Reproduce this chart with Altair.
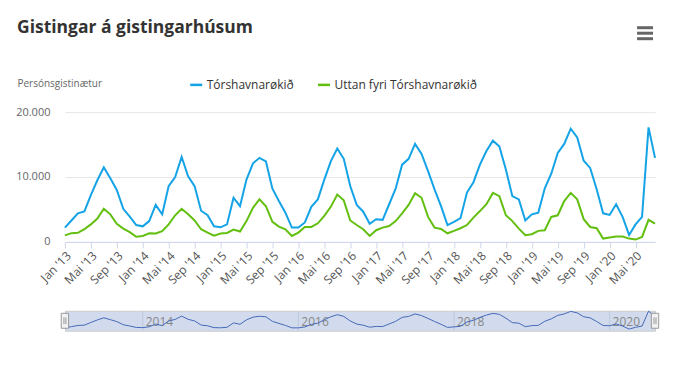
import json
import altair as alt
import pandas as pd

# ---- data -------------------------------------------------------------
month_names = ["Jan", "Feb", "Mar", "Apr", "Mai", "Jun", "Jul", "Aug", "Sep", "Okt", "Nov", "Des"]
start_year = 2013
series_names = ["Tórshavnarøkið", "Uttan fyri Tórshavnarøkið"]
series_colors = ["#14a3e6", "#62bf10"]

torshavn = [
    2200, 3300, 4400, 4700, 7200, 9500, 11500, 9800, 8000, 5100, 3900, 2600,      # 2013
    2400, 3200, 5700, 4250, 8600, 10000, 13100, 10100, 8600, 4800, 4100, 2400,    # 2014
    2250, 2700, 6800, 5500, 9600, 12100, 12950, 12400, 8200, 6300, 4500, 2200,    # 2015
    2200, 3000, 5400, 6550, 9600, 12400, 14400, 12800, 8600, 5700, 4650, 2800,    # 2016
    3500, 3400, 5800, 8200, 11900, 12800, 15100, 13550, 10900, 8100, 5500, 2600,  # 2017
    3100, 3650, 7600, 9200, 11900, 14000, 15600, 14700, 11150, 7050, 6550, 3300,  # 2018
    4250, 4500, 8250, 10500, 13700, 15100, 17450, 16100, 12500, 11400, 8100, 4400,  # 2019
    4150, 5800, 3850, 1070, 2700, 3850, 17650, 12950,                             # 2020
]
uttan = [
    1000, 1350, 1400, 1950, 2700, 3600, 5100, 4250, 2800, 2050, 1500, 800,
    920, 1330, 1300, 1640, 2700, 4100, 5100, 4250, 3300, 1950, 1430, 970,
    1280, 1380, 1900, 1600, 3200, 5250, 6550, 5500, 3100, 2350, 1950, 920,
    1430, 2300, 2300, 2860, 4000, 5400, 7300, 6400, 3300, 2600, 1950, 920,
    1800, 2200, 2450, 3200, 4400, 5700, 7500, 6800, 3850, 2200, 2000, 1330,
    1700, 2100, 2600, 3750, 4750, 5800, 7550, 7050, 4100, 3200, 2050, 1020,
    1180, 1700, 1800, 3850, 4100, 6300, 7550, 6550, 3500, 2300, 2100, 510,
    670, 820, 820, 510, 360, 770, 3400, 2800,
]
y_ticks = [0, 10000, 20000]
nav_years = [2014, 2016, 2018, 2020]
title_text = ["Gistingar á gistingarhúsum"]
y_title = "Persónsgistinætur"

# ---- tables -----------------------------------------------------------
n = len(torshavn)
rows = []
for i in range(n):
    rows.append({"i": i, "serie": series_names[0], "v": torshavn[i]})
    rows.append({"i": i, "serie": series_names[1], "v": uttan[i]})
df = pd.DataFrame(rows)
nav_df = pd.DataFrame({"i": list(range(n)), "v": torshavn})
years_df = pd.DataFrame({"i": [(y - start_year) * 12 for y in nav_years],
                         "lab": [str(y) for y in nav_years]})
handles_df = pd.DataFrame({"i": [0, n - 1]})

W, H, NH = 591, 130, 20
FONT = "Open Sans"

xscale = alt.Scale(domain=[0, n - 1], nice=False, zero=False)
month_js = json.dumps(month_names)
x_label_expr = (f"{month_js}[datum.value % 12] + \" '\" + "
                f"format({start_year % 100} + floor(datum.value / 12), '02d')")

lines = alt.Chart(df).mark_line(strokeWidth=2).encode(
    x=alt.X("i:Q", scale=xscale, title=None,
            axis=alt.Axis(values=list(range(0, n, 4)), labelExpr=x_label_expr,
                          labelAngle=-45, labelFontSize=12, labelColor="#555",
                          labelFont=FONT, domainColor="#ccd6eb", tickColor="#ccd6eb",
                          tickSize=6, grid=False, labelPadding=2,
                          labelOverlap=False, labelBound=False, labelFlush=False)),
    y=alt.Y("v:Q", scale=alt.Scale(domain=[0, 20000], nice=False),
            axis=alt.Axis(values=y_ticks,
                          labelExpr="replace(format(datum.value, ',d'), ',', '.')",
                          title=y_title, titleAngle=0, titleX=-48, titleY=-29,
                          titleAlign="left", titleBaseline="middle",
                          titleFontSize=10, titleFontWeight="normal", titleColor="#666",
                          titleFont=FONT, labelFont=FONT, labelFontSize=11,
                          labelColor="#666", labelPadding=15, ticks=False,
                          domain=False, gridColor="#e6e6e6")),
    color=alt.Color("serie:N", scale=alt.Scale(domain=series_names, range=series_colors),
                    legend=alt.Legend(title=None, orient="none", legendX=124, legendY=-35,
                                      direction="horizontal", symbolType="stroke",
                                      symbolStrokeWidth=2.5, symbolSize=144,
                                      labelFont=FONT, labelFontSize=12, labelColor="#333",
                                      columnPadding=18, labelOffset=3)),
)

title_mark = alt.Chart(pd.DataFrame({"t": title_text})).mark_text(
    align="left", baseline="middle", font=FONT, fontSize=17.5, fontWeight="bold", color="#333"
).encode(x=alt.value(-48), y=alt.value(-84), text="t:N")

# export-menu icon: three short thick bars
menu_bars = [
    alt.Chart(pd.DataFrame({"k": [b]})).mark_rule(strokeWidth=3, color="#666").encode(
        x=alt.value(573), x2=alt.value(589), y=alt.value(yb))
    for b, yb in enumerate([-84.5, -79, -73.5])
]

top = alt.layer(lines, title_mark, *menu_bars).properties(width=W, height=H)

# ---- navigator ---------------------------------------------------------
nx = alt.X("i:Q", scale=xscale, axis=None)
nav_grid = alt.Chart(years_df).mark_rule(color="#c0c9db", strokeWidth=1).encode(x=nx)
nav_labels = alt.Chart(years_df).mark_text(
    align="left", baseline="middle", dx=3, font=FONT, fontSize=12, color="#888"
).encode(x=nx, y=alt.value(NH / 2 + 1), text="lab:N")
nav_line = alt.Chart(nav_df).mark_line(strokeWidth=1, color="#4569b8").encode(
    x=nx, y=alt.Y("v:Q", scale=alt.Scale(domain=[-500, 18000], nice=False, zero=False), axis=None))
nav_handles = alt.Chart(handles_df).mark_point(
    shape="M-0.49,-1L0.49,-1L0.49,1L-0.49,1Z", size=225, filled=True,
    fill="#f2f2f2", stroke="#999", strokeWidth=1, opacity=1
).encode(x=nx, y=alt.value(NH / 2))
nav_grips = alt.Chart(handles_df).mark_point(
    shape="M-0.13,-0.45L-0.13,0.45M0.13,-0.45L0.13,0.45", size=225, filled=False,
    stroke="#999", strokeWidth=1, opacity=1
).encode(x=nx, y=alt.value(NH / 2))

nav = alt.layer(nav_grid, nav_labels, nav_line, nav_handles, nav_grips).properties(
    width=W, height=NH, view=alt.ViewBackground(fill="#d1dbed", stroke="#cccccc"))

chart = alt.vconcat(top, nav, spacing=21).resolve_legend(color="independent").configure(
    background="white", padding={"left": 7, "top": 11, "right": 5, "bottom": 5}
).configure_view(stroke=None)

chart.save("out.html", embed_options={"renderer": "svg", "actions": False})
